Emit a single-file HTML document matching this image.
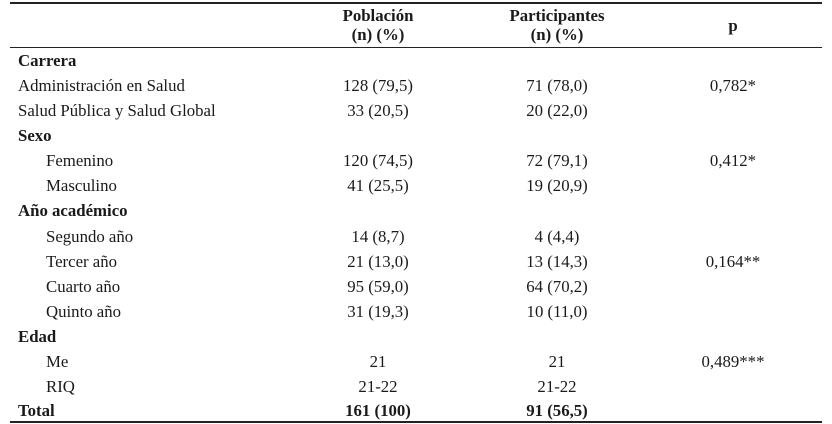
<!DOCTYPE html>
<html><head><meta charset="utf-8"><style>
body{margin:0;width:832px;height:424px;background:#fff;font-family:"Liberation Serif",serif;font-size:16.8px;color:#1a1a1a;position:relative;overflow:hidden}
.r{position:absolute;left:0;width:832px;height:25px;line-height:25px}
.r span{position:absolute;white-space:nowrap}
.l{left:18px}.i{left:46px}
.c1{left:278px;width:200px;text-align:center}
.c2{left:457px;width:200px;text-align:center}
.c3{left:633px;width:200px;text-align:center}
b{font-weight:bold}
.line{position:absolute;left:10px;width:812px;background:#222;height:1px}
.h{position:absolute;font-weight:bold;text-align:center;width:200px;line-height:19px}
</style></head><body>
<div class="line" style="top:2px;height:1.5px"></div>
<div class="line" style="top:47px"></div>
<div class="line" style="top:421px;height:1.5px"></div>
<div class="h" style="left:278px;top:6px">Población<br>(n) (%)</div>
<div class="h" style="left:457px;top:6px">Participantes<br>(n) (%)</div>
<div class="h" style="left:633px;top:16px">p</div>

<div class="r" style="top:48px"><span class="l"><b>Carrera</b></span></div>
<div class="r" style="top:73px"><span class="l">Administración en Salud</span><span class="c1">128 (79,5)</span><span class="c2">71 (78,0)</span><span class="c3">0,782*</span></div>
<div class="r" style="top:98px"><span class="l">Salud Pública y Salud Global</span><span class="c1">33 (20,5)</span><span class="c2">20 (22,0)</span></div>
<div class="r" style="top:123px"><span class="l"><b>Sexo</b></span></div>
<div class="r" style="top:148px"><span class="i">Femenino</span><span class="c1">120 (74,5)</span><span class="c2">72 (79,1)</span><span class="c3">0,412*</span></div>
<div class="r" style="top:173px"><span class="i">Masculino</span><span class="c1">41 (25,5)</span><span class="c2">19 (20,9)</span></div>
<div class="r" style="top:198px"><span class="l"><b>Año académico</b></span></div>
<div class="r" style="top:224px"><span class="i">Segundo año</span><span class="c1">14 (8,7)</span><span class="c2">4 (4,4)</span></div>
<div class="r" style="top:249px"><span class="i">Tercer año</span><span class="c1">21 (13,0)</span><span class="c2">13 (14,3)</span><span class="c3">0,164**</span></div>
<div class="r" style="top:274px"><span class="i">Cuarto año</span><span class="c1">95 (59,0)</span><span class="c2">64 (70,2)</span></div>
<div class="r" style="top:299px"><span class="i">Quinto año</span><span class="c1">31 (19,3)</span><span class="c2">10 (11,0)</span></div>
<div class="r" style="top:324px"><span class="l"><b>Edad</b></span></div>
<div class="r" style="top:349px"><span class="i">Me</span><span class="c1">21</span><span class="c2">21</span><span class="c3">0,489***</span></div>
<div class="r" style="top:374px"><span class="i">RIQ</span><span class="c1">21-22</span><span class="c2">21-22</span></div>
<div class="r" style="top:398px"><span class="l"><b>Total</b></span><span class="c1"><b>161 (100)</b></span><span class="c2"><b>91 (56,5)</b></span></div>
</body></html>
